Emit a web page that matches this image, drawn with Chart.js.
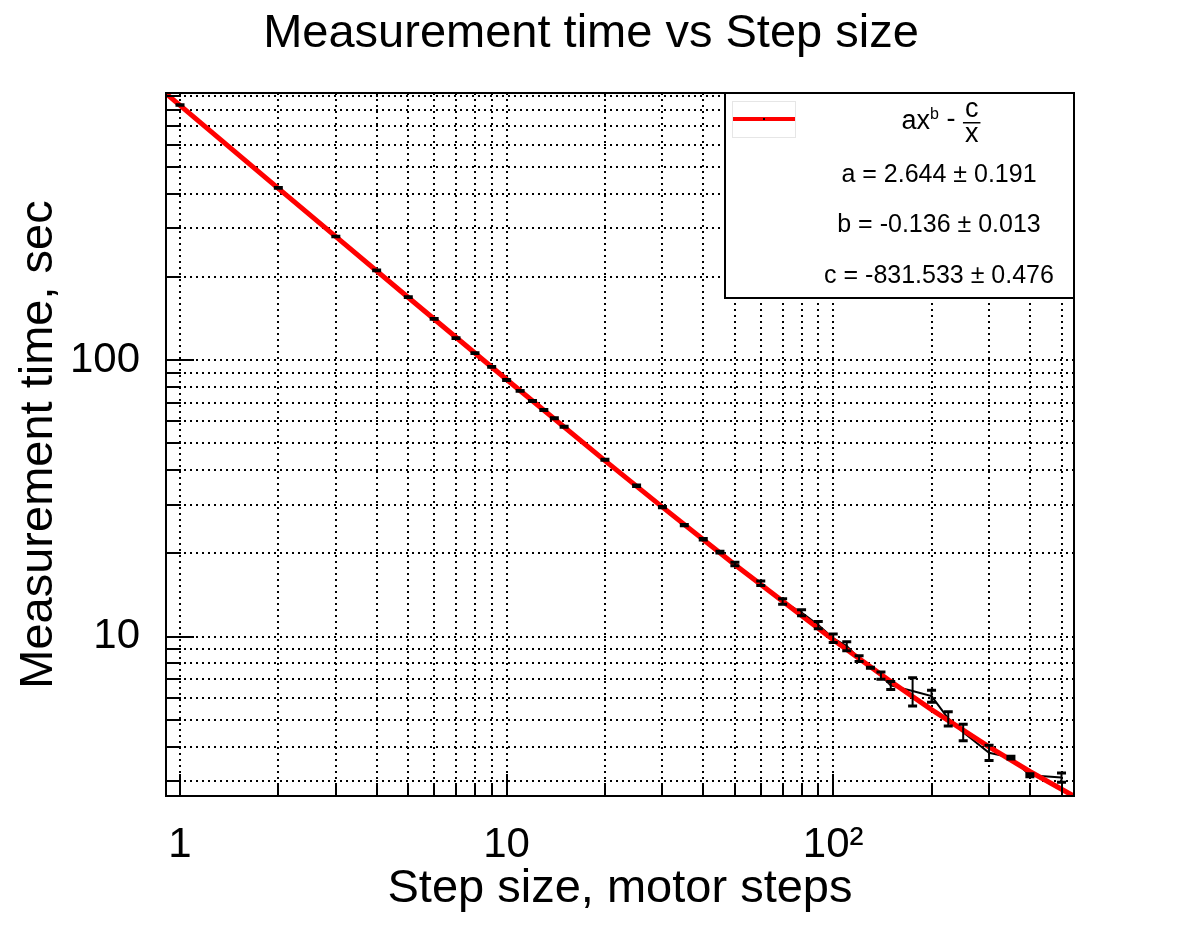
<!DOCTYPE html>
<html>
<head>
<meta charset="utf-8">
<title>Measurement time vs Step size</title>
<script src="https://cdn.jsdelivr.net/npm/chart.js@4.4.1/dist/chart.umd.min.js"></script>
<style>
  body { margin: 0; background: #fff; }
  canvas { display: block; }
</style>
</head>
<body>
<canvas id="timeChart" width="1182" height="938"></canvas>
<script>
// measured points: step size (motor steps), time (sec), error (sec)
const stepSize = [1, 2, 3, 4, 5, 6, 7, 8, 9, 10, 11, 12, 13, 14, 15, 20, 25, 30, 35, 40, 45, 50,
  60, 70, 80, 90, 100, 110, 120, 130, 140, 150, 175, 200, 225, 250, 300, 350, 400, 500];
const measTime = [837, 420, 280, 211, 169, 141, 120, 106, 94.6, 84.7, 77.4, 71.1, 66.0, 61.6, 57.4,
  43.6, 35.1, 29.4, 25.3, 22.5, 20.2, 18.3, 15.6, 13.4, 12.2, 11.0, 9.86, 9.23, 8.33, 7.71, 7.23,
  6.66, 6.35, 6.09, 5.05, 4.51, 3.80, 3.65, 3.15, 3.09];
const measErr = [2, 1.2, 0.8, 0.6, 0.5, 0.4, 0.35, 0.3, 0.3, 0.3, 0.3, 0.3, 0.3, 0.3, 0.25,
  0.2, 0.2, 0.15, 0.15, 0.15, 0.15, 0.25, 0.3, 0.3, 0.3, 0.33, 0.35, 0.35, 0.2, 0.03, 0.22,
  0.22, 0.74, 0.3, 0.3, 0.31, 0.24, 0.04, 0.04, 0.12];

// red fit line
const fitStep = [0.906, 1, 2, 3, 5, 10, 20, 30, 50, 100, 150, 200, 300, 400, 546];
const fitTime = [920.5, 834.2, 418.2, 279.5, 168.4, 85.1, 43.3, 29.38, 18.18, 9.73, 6.88, 5.44, 3.99, 3.25, 2.645];

// stats box text
const fitParams = ['a = 2.644 \u00b1 0.191', 'b = -0.136 \u00b1 0.013', 'c = -831.533 \u00b1 0.476'];

// axes
const xRange = [0.906, 546];
const yRange = [2.65, 925];
const xTicks = [1, 2, 3, 4, 5, 6, 7, 8, 9, 10, 20, 30, 40, 50, 60, 70, 80, 90, 100, 200, 300, 400, 500];
const yTicks = [3, 4, 5, 6, 7, 8, 9, 10, 20, 30, 40, 50, 60, 70, 80, 90, 100, 200, 300, 400, 500, 600, 700, 800, 900];
const xMajor = [1, 10, 100];
const xMajorLabels = ['1', '10', '10\u00b2'];
const yMajor = [10, 100];
const yMajorLabels = ['10', '100'];

const FONT = "'Liberation Sans', Arial, Helvetica, sans-serif";

// ROOT style frame with inner ticks
const frameTicks = {
  id: 'frameTicks',
  afterDatasetsDraw(chart) {
    const {ctx, chartArea: a, scales: {x, y}} = chart;
    ctx.save();
    ctx.strokeStyle = '#000';
    ctx.lineWidth = 2;
    ctx.beginPath();
    xTicks.forEach(v => {
      const px = Math.round(x.getPixelForValue(v));
      const len = xMajor.includes(v) ? 22 : 11;
      ctx.moveTo(px, a.bottom);
      ctx.lineTo(px, a.bottom - len);
    });
    yTicks.forEach(v => {
      const py = Math.round(y.getPixelForValue(v));
      const len = yMajor.includes(v) ? 28 : 15;
      ctx.moveTo(a.left, py);
      ctx.lineTo(a.left + len, py);
    });
    ctx.stroke();
    ctx.strokeRect(a.left, a.top, a.right - a.left, a.bottom - a.top);
    ctx.restore();
  }
};

// error bars with end caps
const errorBars = {
  id: 'errorBars',
  afterDatasetsDraw(chart) {
    const {ctx, chartArea: a, scales: {x, y}} = chart;
    ctx.save();
    ctx.beginPath();
    ctx.rect(a.left, a.top, a.right - a.left, a.bottom - a.top);
    ctx.clip();
    ctx.strokeStyle = '#000';
    stepSize.forEach((s, i) => {
      const px = x.getPixelForValue(s);
      const yHi = y.getPixelForValue(measTime[i] + measErr[i]);
      const yLo = y.getPixelForValue(measTime[i] - measErr[i]);
      ctx.lineWidth = 2;
      ctx.beginPath();
      ctx.moveTo(px, yHi);
      ctx.lineTo(px, yLo);
      ctx.stroke();
      ctx.lineWidth = 3;
      ctx.beginPath();
      ctx.moveTo(px - 4.5, yHi);
      ctx.lineTo(px + 4.5, yHi);
      ctx.moveTo(px - 4.5, yLo);
      ctx.lineTo(px + 4.5, yLo);
      ctx.stroke();
    });
    ctx.restore();
  }
};

// fit stats box in the top right corner
const statsBox = {
  id: 'statsBox',
  afterDraw(chart) {
    const {ctx, chartArea: a} = chart;
    const w = 349, h = 205;
    const left = a.right - w, top = a.top;
    ctx.save();
    ctx.fillStyle = '#fff';
    ctx.fillRect(left, top, w, h);
    ctx.strokeStyle = '#000';
    ctx.lineWidth = 2;
    ctx.strokeRect(left, top, w, h);

    // line sample
    ctx.strokeStyle = '#e6e6e6';
    ctx.lineWidth = 1;
    ctx.strokeRect(left + 7.5, top + 8.5, 63, 36);
    ctx.strokeStyle = '#ff0000';
    ctx.lineWidth = 4;
    ctx.beginPath();
    ctx.moveTo(left + 8, top + 26);
    ctx.lineTo(left + 70, top + 26);
    ctx.stroke();
    ctx.fillStyle = '#000';
    ctx.fillRect(left + 38, top + 25, 2, 2);

    // formula  ax^b - c/x
    const cx = left + 216;
    ctx.fillStyle = '#000';
    ctx.textBaseline = 'alphabetic';
    ctx.textAlign = 'left';
    const big = '27px ' + FONT, small = '16px ' + FONT;
    ctx.font = big;
    const wAx = ctx.measureText('ax').width;
    const wMinus = ctx.measureText(' - ').width;
    const wFrac = ctx.measureText('c').width + 4;
    ctx.font = small;
    const wB = ctx.measureText('b').width;
    let xs = cx - (wAx + wB + wMinus + wFrac) / 2;
    ctx.font = big;
    ctx.fillText('ax', xs, top + 36);
    xs += wAx;
    ctx.font = small;
    ctx.fillText('b', xs, top + 26);
    xs += wB;
    ctx.font = big;
    ctx.fillText(' - ', xs, top + 34);
    xs += wMinus;
    ctx.textAlign = 'center';
    ctx.fillText('c', xs + wFrac / 2, top + 24);
    ctx.fillText('x', xs + wFrac / 2, top + 49);
    ctx.fillRect(xs, top + 29, wFrac, 1.5);

    // parameters
    ctx.font = '25px ' + FONT;
    ctx.textAlign = 'center';
    const rows = [89, 139, 190];
    fitParams.forEach((t, i) => ctx.fillText(t, left + 214, top + rows[i]));
    ctx.restore();
  }
};

const ctx = document.getElementById('timeChart').getContext('2d');
const timeChart = new Chart(ctx, {
  type: 'scatter',
  data: {
    datasets: [{
      label: 'data',
      data: stepSize.map((s, i) => ({x: s, y: measTime[i]})),
      showLine: true,
      borderColor: '#000',
      borderWidth: 2,
      pointRadius: 0,
      order: 2
    }, {
      label: 'fit',
      data: fitStep.map((s, i) => ({x: s, y: fitTime[i]})),
      showLine: true,
      borderColor: '#ff0000',
      borderWidth: 5,
      pointRadius: 0,
      clip: 0,
      order: 1
    }]
  },
  options: {
    responsive: false,
    animation: false,
    layout: { padding: 0 },
    plugins: {
      legend: { display: false },
      tooltip: { enabled: false },
      title: {
        display: true,
        text: 'Measurement time vs Step size',
        color: '#000',
        font: { family: FONT, size: 47, weight: 'normal' },
        padding: { top: 6, bottom: 30.6 }
      }
    },
    scales: {
      x: {
        type: 'logarithmic',
        position: 'bottom',
        min: xRange[0],
        max: xRange[1],
        afterBuildTicks: s => { s.ticks = xTicks.map(v => ({value: v})); },
        afterFit: s => { s.height = 142; },
        ticks: {
          autoSkip: false,
          maxRotation: 0,
          padding: 24,
          color: '#000',
          font: { family: FONT, size: 42 },
          callback: v => {
            const i = xMajor.indexOf(v);
            return i >= 0 ? xMajorLabels[i] : '';
          }
        },
        grid: { color: '#000', lineWidth: 2, drawTicks: false },
        border: { display: false, dash: [2, 4] },
        title: {
          display: true,
          text: 'Step size, motor steps',
          color: '#000',
          font: { family: FONT, size: 47 },
          padding: { top: 0, bottom: 21 }
        }
      },
      y: {
        type: 'logarithmic',
        position: 'left',
        min: yRange[0],
        max: yRange[1],
        afterBuildTicks: s => { s.ticks = yTicks.map(v => ({value: v})); },
        afterFit: s => { s.width = 166; },
        ticks: {
          autoSkip: false,
          padding: 26,
          color: '#000',
          font: { family: FONT, size: 42 },
          callback: v => {
            const i = yMajor.indexOf(v);
            return i >= 0 ? yMajorLabels[i] : '';
          }
        },
        grid: { color: '#000', lineWidth: 2, drawTicks: false },
        border: { display: false, dash: [2, 4] },
        title: {
          display: true,
          text: 'Measurement time, sec',
          color: '#000',
          font: { family: FONT, size: 47 },
          padding: { top: 11, bottom: 0 }
        }
      },
      // empty right margin, keeps the title centred on the page
      yRight: {
        type: 'linear',
        position: 'right',
        display: true,
        grid: { display: false, drawTicks: false },
        border: { display: false },
        ticks: { display: false },
        afterFit: s => { s.width = 108; }
      }
    }
  },
  plugins: [errorBars, frameTicks, statsBox]
});
</script>
</body>
</html>
